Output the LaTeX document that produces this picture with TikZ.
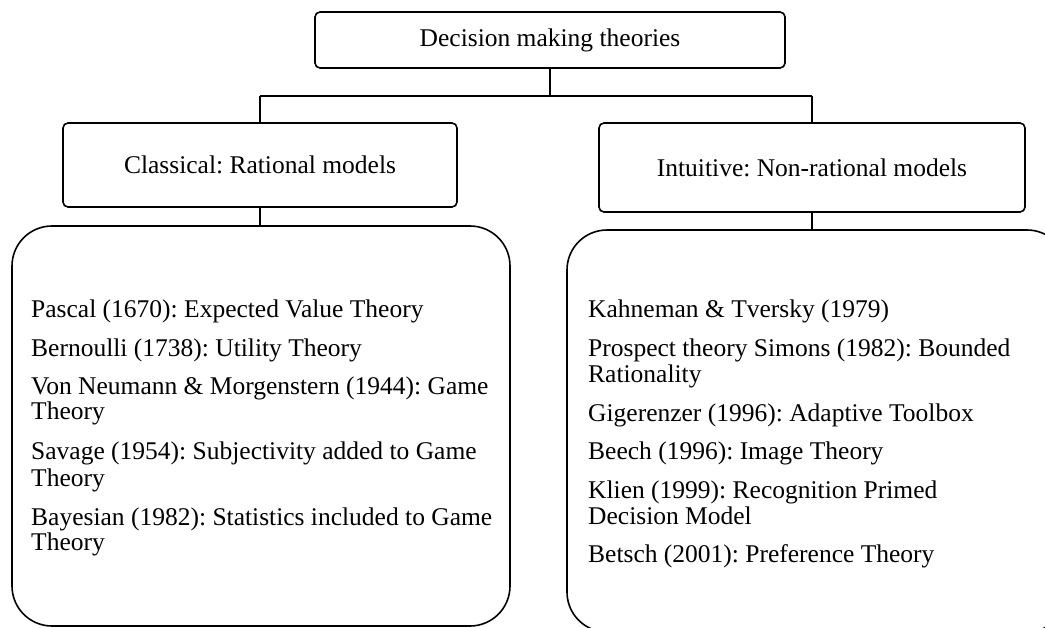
\documentclass[tikz,border=0pt]{standalone}
\usepackage{fontspec}
\setmainfont{Liberation Serif}
\frenchspacing
\begin{document}
\begin{tikzpicture}[x=1pt,y=-1pt,
  box/.style={draw, line width=1.6pt, rounded corners=5pt, inner sep=0pt, font=\fontsize{25.5}{29}\selectfont},
  bigbox/.style={draw, line width=1.6pt, rounded corners=40pt, inner sep=0pt},
  item/.style={anchor=base west, inner sep=0pt, font=\fontsize{25.5}{29}\selectfont},
  conn/.style={line width=1.6pt}]
\useasboundingbox (0,0) rectangle (1045,628);
\clip (0,0) rectangle (1045,628);
% top box
\node[box, minimum width=470pt, minimum height=56pt] (top) at (550,40) {Decision making theories};
% level 2
\node[box, minimum width=394pt, minimum height=84pt] (cls) at (260,165) {Classical: Rational models};
\node[box, minimum width=426pt, minimum height=89pt] (int) at (812,167.5) {Intuitive: Non-rational models};
% bottom boxes
\node[bigbox, minimum width=498pt, minimum height=400pt] (lb) at (261,426) {};
\node[bigbox, minimum width=500pt, minimum height=402pt] (rb) at (817,431) {};
% connectors
\coordinate (j) at (550,96);
\coordinate (jl) at (260,96);
\coordinate (jr) at (812,96);
\draw[conn] (top.south) -- (j);
\draw[conn] (jl) -- (jr);
\draw[conn] (jl) -- (cls.north);
\draw[conn] (jr) -- (int.north);
\draw[conn] (cls.south) -- (cls.south |- lb.north);
\draw[conn] (int.south) -- (int.south |- rb.north);
% left items
\node[item] (l1) at (31,318) {Pascal (1670): Expected Value Theory};
\node[item] (l2) at (31,357) {Bernoulli (1738): Utility Theory};
\node[item] (l3) at (31,395) {Von Neumann \& Morgenstern (1944): Game};
\node[item] (l3b) at (31,420) {Theory};
\node[item] (l4) at (31,460) {Savage (1954): Subjectivity added to Game};
\node[item] (l4b) at (31,486) {Theory};
\node[item] (l5) at (31,525) {Bayesian (1982): Statistics included to Game};
\node[item] (l5b) at (31,550) {Theory};
% right items
\node[item] (r1) at (588,318) {Kahneman \& Tversky (1979)};
\node[item] (r2) at (588,357) {Prospect theory Simons (1982): Bounded};
\node[item] (r2b) at (588,383) {Rationality};
\node[item] (r3) at (588,421) {Gigerenzer (1996): Adaptive Toolbox};
\node[item] (r4) at (588,460) {Beech (1996): Image Theory};
\node[item] (r5) at (588,498) {Klien (1999): Recognition Primed};
\node[item] (r5b) at (588,524) {Decision Model};
\node[item] (r6) at (588,562) {Betsch (2001): Preference Theory};
\end{tikzpicture}
\end{document}
